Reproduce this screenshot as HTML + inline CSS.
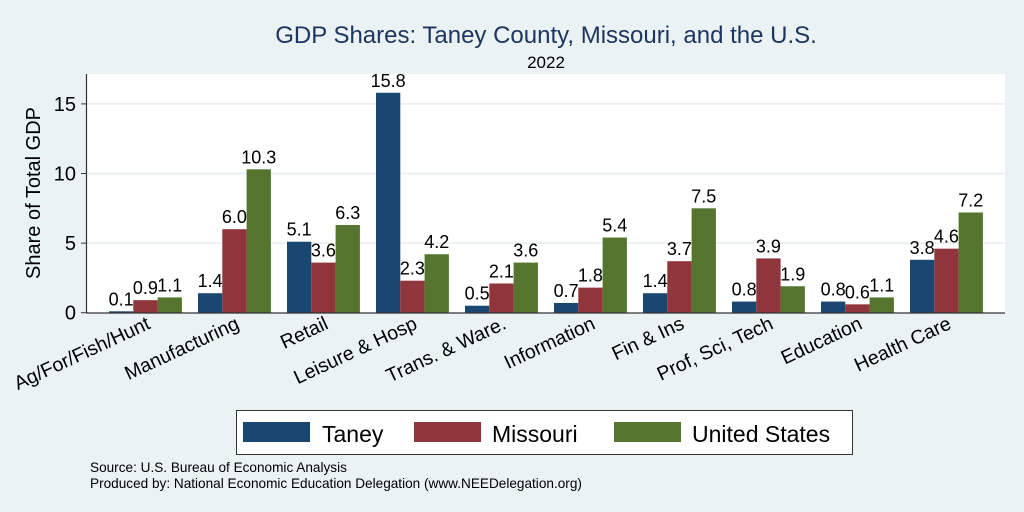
<!DOCTYPE html>
<html><head><meta charset="utf-8"><style>
body{margin:0;background:#eaf2f3;}
svg{display:block;font-family:"Liberation Sans",Arial,sans-serif;}
</style></head><body>
<svg width="1024" height="512" viewBox="0 0 1024 512">
<rect x="0" y="0" width="1024" height="512" fill="#eaf2f3"/>
<rect x="87" y="74" width="918" height="239" fill="#ffffff"/>
<text x="546" y="43" font-size="24" fill="#1e3560" text-anchor="middle">GDP Shares: Taney County, Missouri, and the U.S.</text>
<text x="546" y="68" font-size="17" fill="#000" text-anchor="middle">2022</text>
<text transform="translate(40,193) rotate(-90)" font-size="20" text-anchor="middle">Share of Total GDP</text>
<g id="grid"></g>
<g id="bars"></g>
<g id="labels"></g>
<line x1="86.5" y1="74" x2="86.5" y2="313" stroke="#333" stroke-width="1.2"/>
<line x1="86" y1="313" x2="1005" y2="313" stroke="#333" stroke-width="1.2"/>
<g>
<rect x="236.5" y="410.5" width="616" height="44" fill="#fff" stroke="#333" stroke-width="1"/>
<rect x="243" y="422" width="67" height="20" fill="#1a476f"/>
<text x="322" y="442" font-size="23">Taney</text>
<rect x="414" y="422" width="67" height="20" fill="#90353b"/>
<text x="492" y="442" font-size="23">Missouri</text>
<rect x="614" y="422" width="67" height="20" fill="#55752f"/>
<text x="692" y="442" font-size="23">United States</text>
</g>
<text x="90" y="472" font-size="13.6">Source: U.S. Bureau of Economic Analysis</text>
<text x="90" y="488" font-size="13.6">Produced by: National Economic Education Delegation (www.NEEDelegation.org)</text>
</svg>
<script>
const categories=["Ag/For/Fish/Hunt","Manufacturing","Retail","Leisure & Hosp","Trans. & Ware.","Information","Fin & Ins","Prof, Sci, Tech","Education","Health Care"];
const taney=[0.1,1.4,5.1,15.8,0.5,0.7,1.4,0.8,0.8,3.8];
const missouri=[0.9,6.0,3.6,2.3,2.1,1.8,3.7,3.9,0.6,4.6];
const us=[1.1,10.3,6.3,4.2,3.6,5.4,7.5,1.9,1.1,7.2];
const yTicks=[0,5,10,15];
const NS="http://www.w3.org/2000/svg";
const y0=312.7,ppu=13.92;
function yS(v){return y0-v*ppu;}
const gStart=109,gStep=89,bw=24.3;
function xS(i,s){return gStart+i*gStep+s*bw;}
function mk(tag,attrs,parent){const e=document.createElementNS(NS,tag);for(const k in attrs)e.setAttribute(k,attrs[k]);parent.appendChild(e);return e;}
const grid=document.getElementById('grid'),bars=document.getElementById('bars'),labels=document.getElementById('labels');
yTicks.forEach(t=>{
  if(t>0){const l=mk('line',{x1:87,x2:1005,y1:yS(t),y2:yS(t),stroke:'#e4eef0','stroke-width':1.5},grid);
  
  }
  const tk=mk('line',{x1:81,x2:87,y1:yS(t),y2:yS(t),stroke:'#333'},grid);
  
  
  const tx=mk('text',{x:76,y:yS(t)+7,'font-size':20,'text-anchor':'end'},grid);
  tx.textContent=t;
  
  
});
const series=[[taney,'#1a476f','taney'],[missouri,'#90353b','missouri'],[us,'#55752f','us']];
categories.forEach((c,i)=>{
  series.forEach(([arr,col,nm],s)=>{
    const v=arr[i];
    const r=mk('rect',{x:xS(i,s),y:yS(v),width:bw,height:y0-yS(v),fill:col},bars);
    
    
    const t=mk('text',{x:xS(i,s)+bw/2,y:yS(v)-6,'font-size':18,'text-anchor':'middle'},labels);
    t.textContent=v.toFixed(1);
    
    
  });
  const cx=xS(i,1.5)+6;
  const tl=mk('text',{x:0,y:0,'font-size':19.5,'text-anchor':'end',transform:`translate(${cx},${328}) rotate(-25)`},labels);
  tl.textContent=c;
  
  
});
</script>
</body></html>
